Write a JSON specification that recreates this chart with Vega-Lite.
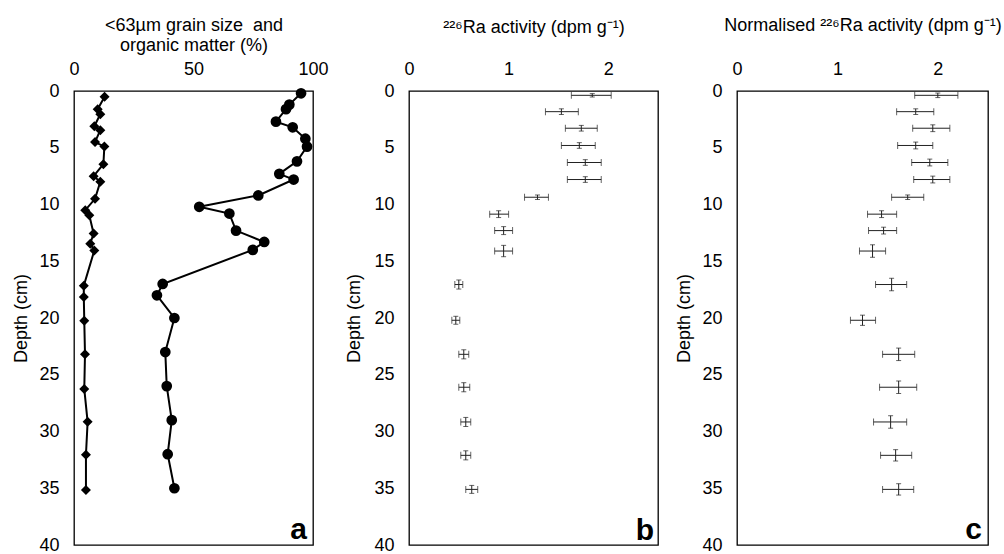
{
  "$schema": "https://vega.github.io/schema/vega-lite/v6.json",
  "background": "white",
  "padding": {"left": 12, "top": 15, "right": 2, "bottom": 0},
  "config": {
    "font": "Liberation Sans",
    "view": {"stroke": "black", "strokeWidth": 1.3},
    "axis": {
      "domain": false, "grid": false, "ticks": false, "tickSize": 0, "labelFlush": false, "labelOverlap": false,
      "labelFont": "Liberation Sans", "labelFontSize": 18, "labelColor": "black",
      "titleFont": "Liberation Sans", "titleFontSize": 18, "titleFontWeight": "normal", "titleColor": "black"
    }
  },
  "datasets": {
    "sed": [
      {"series": "grain", "depth": 0.2, "pct": 95.0},
      {"series": "grain", "depth": 1.2, "pct": 90.1},
      {"series": "grain", "depth": 1.6, "pct": 88.7},
      {"series": "grain", "depth": 2.7, "pct": 84.5},
      {"series": "grain", "depth": 3.2, "pct": 91.5},
      {"series": "grain", "depth": 4.2, "pct": 96.8},
      {"series": "grain", "depth": 4.9, "pct": 97.5},
      {"series": "grain", "depth": 6.2, "pct": 93.3},
      {"series": "grain", "depth": 7.3, "pct": 85.9},
      {"series": "grain", "depth": 7.8, "pct": 91.9},
      {"series": "grain", "depth": 9.2, "pct": 77.1},
      {"series": "grain", "depth": 10.2, "pct": 52.4},
      {"series": "grain", "depth": 10.8, "pct": 65.0},
      {"series": "grain", "depth": 12.3, "pct": 67.8},
      {"series": "grain", "depth": 13.3, "pct": 79.6},
      {"series": "grain", "depth": 14.0, "pct": 74.8},
      {"series": "grain", "depth": 17.0, "pct": 37.1},
      {"series": "grain", "depth": 18.0, "pct": 34.7},
      {"series": "grain", "depth": 20.0, "pct": 42.0},
      {"series": "grain", "depth": 23.0, "pct": 38.2},
      {"series": "grain", "depth": 26.0, "pct": 38.8},
      {"series": "grain", "depth": 29.0, "pct": 40.9},
      {"series": "grain", "depth": 32.0, "pct": 39.2},
      {"series": "grain", "depth": 35.0, "pct": 42.0},
      {"series": "om", "depth": 0.5, "pct": 12.8},
      {"series": "om", "depth": 1.6, "pct": 9.9},
      {"series": "om", "depth": 2.05, "pct": 11.0},
      {"series": "om", "depth": 3.1, "pct": 8.5},
      {"series": "om", "depth": 3.45, "pct": 11.0},
      {"series": "om", "depth": 4.5, "pct": 8.8},
      {"series": "om", "depth": 4.9, "pct": 12.7},
      {"series": "om", "depth": 6.45, "pct": 12.3},
      {"series": "om", "depth": 7.5, "pct": 8.2},
      {"series": "om", "depth": 8.0, "pct": 11.0},
      {"series": "om", "depth": 9.5, "pct": 8.8},
      {"series": "om", "depth": 10.5, "pct": 4.7},
      {"series": "om", "depth": 10.95, "pct": 6.4},
      {"series": "om", "depth": 12.55, "pct": 8.2},
      {"series": "om", "depth": 13.45, "pct": 6.8},
      {"series": "om", "depth": 14.05, "pct": 8.5},
      {"series": "om", "depth": 17.15, "pct": 4.1},
      {"series": "om", "depth": 18.15, "pct": 4.1},
      {"series": "om", "depth": 20.25, "pct": 4.3},
      {"series": "om", "depth": 23.2, "pct": 4.6},
      {"series": "om", "depth": 26.25, "pct": 4.3},
      {"series": "om", "depth": 29.15, "pct": 5.7},
      {"series": "om", "depth": 32.05, "pct": 5.0},
      {"series": "om", "depth": 35.15, "pct": 5.0}
    ],
    "ra": [
      {"depth": 0.38, "ra": 1.84, "lo": 1.63, "hi": 2.03, "dlo": 0.23, "dhi": 0.53},
      {"depth": 1.82, "ra": 1.53, "lo": 1.37, "hi": 1.70, "dlo": 1.57, "dhi": 2.07},
      {"depth": 3.28, "ra": 1.73, "lo": 1.57, "hi": 1.89, "dlo": 3.03, "dhi": 3.53},
      {"depth": 4.8, "ra": 1.71, "lo": 1.53, "hi": 1.87, "dlo": 4.55, "dhi": 5.05},
      {"depth": 6.3, "ra": 1.77, "lo": 1.59, "hi": 1.93, "dlo": 6.05, "dhi": 6.55},
      {"depth": 7.8, "ra": 1.77, "lo": 1.59, "hi": 1.93, "dlo": 7.55, "dhi": 8.05},
      {"depth": 9.36, "ra": 1.29, "lo": 1.16, "hi": 1.40, "dlo": 9.16, "dhi": 9.56},
      {"depth": 10.85, "ra": 0.90, "lo": 0.81, "hi": 1.00, "dlo": 10.55, "dhi": 11.15},
      {"depth": 12.3, "ra": 0.95, "lo": 0.86, "hi": 1.04, "dlo": 11.95, "dhi": 12.65},
      {"depth": 14.1, "ra": 0.95, "lo": 0.86, "hi": 1.04, "dlo": 13.6, "dhi": 14.6},
      {"depth": 17.05, "ra": 0.50, "lo": 0.46, "hi": 0.54, "dlo": 16.65, "dhi": 17.45},
      {"depth": 20.2, "ra": 0.47, "lo": 0.43, "hi": 0.51, "dlo": 19.85, "dhi": 20.55},
      {"depth": 23.2, "ra": 0.55, "lo": 0.50, "hi": 0.60, "dlo": 22.8, "dhi": 23.6},
      {"depth": 26.1, "ra": 0.55, "lo": 0.50, "hi": 0.61, "dlo": 25.7, "dhi": 26.5},
      {"depth": 29.16, "ra": 0.57, "lo": 0.52, "hi": 0.62, "dlo": 28.76, "dhi": 29.56},
      {"depth": 32.1, "ra": 0.57, "lo": 0.52, "hi": 0.62, "dlo": 31.7, "dhi": 32.5},
      {"depth": 35.1, "ra": 0.63, "lo": 0.57, "hi": 0.69, "dlo": 34.75, "dhi": 35.45}
    ],
    "nra": [
      {"depth": 0.38, "ra": 2.00, "lo": 1.77, "hi": 2.20, "dlo": 0.18, "dhi": 0.58},
      {"depth": 1.82, "ra": 1.78, "lo": 1.59, "hi": 1.96, "dlo": 1.57, "dhi": 2.07},
      {"depth": 3.28, "ra": 1.95, "lo": 1.75, "hi": 2.12, "dlo": 2.98, "dhi": 3.58},
      {"depth": 4.8, "ra": 1.78, "lo": 1.60, "hi": 1.95, "dlo": 4.5, "dhi": 5.1},
      {"depth": 6.3, "ra": 1.92, "lo": 1.74, "hi": 2.10, "dlo": 6.0, "dhi": 6.6},
      {"depth": 7.8, "ra": 1.95, "lo": 1.76, "hi": 2.12, "dlo": 7.5, "dhi": 8.1},
      {"depth": 9.36, "ra": 1.70, "lo": 1.54, "hi": 1.86, "dlo": 9.16, "dhi": 9.56},
      {"depth": 10.85, "ra": 1.44, "lo": 1.30, "hi": 1.59, "dlo": 10.55, "dhi": 11.15},
      {"depth": 12.3, "ra": 1.46, "lo": 1.31, "hi": 1.59, "dlo": 12.0, "dhi": 12.6},
      {"depth": 14.1, "ra": 1.35, "lo": 1.22, "hi": 1.48, "dlo": 13.55, "dhi": 14.65},
      {"depth": 17.05, "ra": 1.54, "lo": 1.38, "hi": 1.69, "dlo": 16.5, "dhi": 17.6},
      {"depth": 20.2, "ra": 1.25, "lo": 1.13, "hi": 1.38, "dlo": 19.75, "dhi": 20.65},
      {"depth": 23.2, "ra": 1.61, "lo": 1.45, "hi": 1.77, "dlo": 22.65, "dhi": 23.75},
      {"depth": 26.1, "ra": 1.61, "lo": 1.42, "hi": 1.79, "dlo": 25.55, "dhi": 26.65},
      {"depth": 29.16, "ra": 1.53, "lo": 1.36, "hi": 1.69, "dlo": 28.61, "dhi": 29.71},
      {"depth": 32.1, "ra": 1.58, "lo": 1.43, "hi": 1.74, "dlo": 31.6, "dhi": 32.6},
      {"depth": 35.1, "ra": 1.61, "lo": 1.45, "hi": 1.76, "dlo": 34.6, "dhi": 35.6}
    ],
    "labels": [
      {"panel": "a", "xmax": 100},
      {"panel": "b", "xmax": 2.5},
      {"panel": "c", "xmax": 2.5}
    ]
  },
  "spacing": 16,
  "hconcat": [
    {
      "width": 239, "height": 454,
      "view": {"stroke": "black", "strokeWidth": 1.3},
      "layer": [
        {
          "data": {"name": "sed"},
          "mark": {"type": "line", "color": "black", "strokeWidth": 2},
          "encoding": {
            "x": {"field": "pct", "type": "quantitative",
                  "scale": {"domain": [0, 100], "nice": false},
                  "axis": {"orient": "top", "values": [0, 50, 100], "labelPadding": 13,
                           "title": ["<63µm grain size \u00a0and", "organic matter (%)"],
                           "titleLineHeight": 20, "titlePadding": 6}},
            "y": {"field": "depth", "type": "quantitative",
                  "scale": {"domain": [0, 40], "reverse": true, "nice": false},
                  "axis": {"values": [0, 5, 10, 15, 20, 25, 30, 35, 40], "labelPadding": 15,
                           "title": "Depth (cm)", "titlePadding": 8}},
            "detail": {"field": "series"},
            "order": {"field": "depth", "type": "quantitative"}
          }
        },
        {
          "data": {"name": "sed"},
          "mark": {"type": "point", "filled": true, "color": "black", "opacity": 1},
          "encoding": {
            "x": {"field": "pct", "type": "quantitative"},
            "y": {"field": "depth", "type": "quantitative"},
            "shape": {"field": "series", "type": "nominal",
                      "scale": {"domain": ["grain", "om"], "range": ["circle", "diamond"]}, "legend": null},
            "size": {"field": "series", "type": "nominal",
                     "scale": {"domain": ["grain", "om"], "range": [115, 100]}, "legend": null}
          }
        },
        {
          "data": {"name": "labels"},
          "transform": [{"filter": "datum.panel == 'a'"}],
          "mark": {"type": "text", "fontSize": 30, "fontWeight": "bold", "align": "right", "baseline": "alphabetic", "dx": -6, "dy": -6, "color": "black"},
          "encoding": {
            "x": {"field": "xmax", "type": "quantitative"},
            "y": {"datum": 40, "type": "quantitative"},
            "text": {"field": "panel"}
          }
        }
      ]
    },
    {
      "width": 249, "height": 454,
      "view": {"stroke": "black", "strokeWidth": 1.3},
      "layer": [
        {
          "data": {"name": "ra"},
          "mark": {"type": "rule", "color": "#222", "strokeWidth": 1},
          "encoding": {
            "x": {"field": "lo", "type": "quantitative",
                  "scale": {"domain": [0, 2.5], "nice": false},
                  "axis": {"orient": "top", "values": [0, 1, 2], "format": "d", "labelPadding": 13,
                           "title": "²²⁶Ra activity (dpm g⁻¹)", "titlePadding": 24}},
            "x2": {"field": "hi"},
            "y": {"field": "depth", "type": "quantitative",
                  "scale": {"domain": [0, 40], "reverse": true, "nice": false},
                  "axis": {"values": [0, 5, 10, 15, 20, 25, 30, 35, 40], "labelPadding": 15,
                           "title": "Depth (cm)", "titlePadding": 10}}
          }
        },
        {
          "data": {"name": "ra"},
          "mark": {"type": "tick", "orient": "vertical", "color": "#222", "size": 7, "thickness": 1},
          "encoding": {"x": {"field": "lo", "type": "quantitative"}, "y": {"field": "depth", "type": "quantitative"}}
        },
        {
          "data": {"name": "ra"},
          "mark": {"type": "tick", "orient": "vertical", "color": "#222", "size": 7, "thickness": 1},
          "encoding": {"x": {"field": "hi", "type": "quantitative"}, "y": {"field": "depth", "type": "quantitative"}}
        },
        {
          "data": {"name": "ra"},
          "mark": {"type": "rule", "color": "#222", "strokeWidth": 1},
          "encoding": {
            "x": {"field": "ra", "type": "quantitative"},
            "y": {"field": "dlo", "type": "quantitative"},
            "y2": {"field": "dhi"}
          }
        },
        {
          "data": {"name": "ra"},
          "mark": {"type": "tick", "orient": "horizontal", "color": "#222", "size": 5, "thickness": 1},
          "encoding": {"x": {"field": "ra", "type": "quantitative"}, "y": {"field": "dlo", "type": "quantitative"}}
        },
        {
          "data": {"name": "ra"},
          "mark": {"type": "tick", "orient": "horizontal", "color": "#222", "size": 5, "thickness": 1},
          "encoding": {"x": {"field": "ra", "type": "quantitative"}, "y": {"field": "dhi", "type": "quantitative"}}
        },
        {
          "data": {"name": "labels"},
          "transform": [{"filter": "datum.panel == 'b'"}],
          "mark": {"type": "text", "fontSize": 30, "fontWeight": "bold", "align": "right", "baseline": "alphabetic", "dx": -4, "dy": -5, "color": "black"},
          "encoding": {
            "x": {"field": "xmax", "type": "quantitative"},
            "y": {"datum": 40, "type": "quantitative"},
            "text": {"field": "panel"}
          }
        }
      ]
    },
    {
      "width": 251, "height": 454,
      "view": {"stroke": "black", "strokeWidth": 1.3},
      "layer": [
        {
          "data": {"name": "nra"},
          "mark": {"type": "rule", "color": "#222", "strokeWidth": 1},
          "encoding": {
            "x": {"field": "lo", "type": "quantitative",
                  "scale": {"domain": [0, 2.5], "nice": false},
                  "axis": {"orient": "top", "values": [0, 1, 2], "format": "d", "labelPadding": 13,
                           "title": "Normalised ²²⁶Ra activity (dpm g⁻¹)", "titlePadding": 26}},
            "x2": {"field": "hi"},
            "y": {"field": "depth", "type": "quantitative",
                  "scale": {"domain": [0, 40], "reverse": true, "nice": false},
                  "axis": {"values": [0, 5, 10, 15, 20, 25, 30, 35, 40], "labelPadding": 15,
                           "title": "Depth (cm)", "titlePadding": 8}}
          }
        },
        {
          "data": {"name": "nra"},
          "mark": {"type": "tick", "orient": "vertical", "color": "#222", "size": 7, "thickness": 1},
          "encoding": {"x": {"field": "lo", "type": "quantitative"}, "y": {"field": "depth", "type": "quantitative"}}
        },
        {
          "data": {"name": "nra"},
          "mark": {"type": "tick", "orient": "vertical", "color": "#222", "size": 7, "thickness": 1},
          "encoding": {"x": {"field": "hi", "type": "quantitative"}, "y": {"field": "depth", "type": "quantitative"}}
        },
        {
          "data": {"name": "nra"},
          "mark": {"type": "rule", "color": "#222", "strokeWidth": 1},
          "encoding": {
            "x": {"field": "ra", "type": "quantitative"},
            "y": {"field": "dlo", "type": "quantitative"},
            "y2": {"field": "dhi"}
          }
        },
        {
          "data": {"name": "nra"},
          "mark": {"type": "tick", "orient": "horizontal", "color": "#222", "size": 5, "thickness": 1},
          "encoding": {"x": {"field": "ra", "type": "quantitative"}, "y": {"field": "dlo", "type": "quantitative"}}
        },
        {
          "data": {"name": "nra"},
          "mark": {"type": "tick", "orient": "horizontal", "color": "#222", "size": 5, "thickness": 1},
          "encoding": {"x": {"field": "ra", "type": "quantitative"}, "y": {"field": "dhi", "type": "quantitative"}}
        },
        {
          "data": {"name": "labels"},
          "transform": [{"filter": "datum.panel == 'c'"}],
          "mark": {"type": "text", "fontSize": 30, "fontWeight": "bold", "align": "right", "baseline": "alphabetic", "dx": -6, "dy": -6, "color": "black"},
          "encoding": {
            "x": {"field": "xmax", "type": "quantitative"},
            "y": {"datum": 40, "type": "quantitative"},
            "text": {"field": "panel"}
          }
        }
      ]
    }
  ]
}
